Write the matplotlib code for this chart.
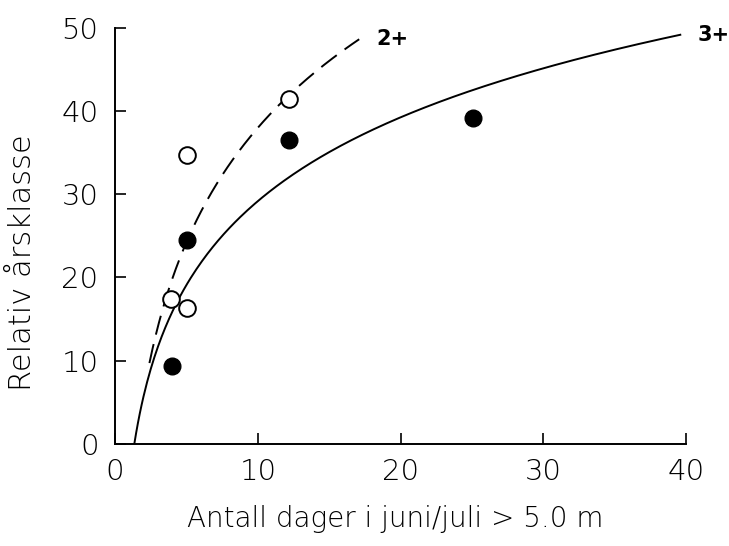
import numpy as np
import matplotlib
matplotlib.use("Agg")
import matplotlib.pyplot as plt

# Data
x_2plus = [3.9, 5.0, 5.0, 12.2]        # open circles (2+)
y_2plus = [17.4, 34.7, 16.3, 41.4]
x_3plus = [4.0, 5.0, 12.2, 25.1]       # filled circles (3+)
y_3plus = [9.4, 24.5, 36.5, 39.2]

# extents of fitted curves
range_2plus = (2.4, 17.1)
range_3plus = (1.34, 39.6)

xticks = [0, 10, 20, 30, 40]
yticks = [0, 10, 20, 30, 40, 50]

plt.rcParams['font.family'] = ['DejaVu Sans']

fig = plt.figure(figsize=(7.29, 5.46), dpi=100)
ax = fig.add_axes([0.158, 0.187, 0.783, 0.762])

# log fits y = a + b ln x
b2, a2 = np.polyfit(np.log(x_2plus), y_2plus, 1)
b3, a3 = np.polyfit(np.log(x_3plus), y_3plus, 1)
xs2 = np.linspace(range_2plus[0], range_2plus[1], 200)
xs3 = np.linspace(range_3plus[0], range_3plus[1], 300)
ax.plot(xs2, a2 + b2 * np.log(xs2), color='black', lw=1.4, ls=(0, (10, 5)))
ax.plot(xs3, a3 + b3 * np.log(xs3), color='black', lw=1.4)

ax.plot(x_2plus, y_2plus, 'o', ms=12, mfc='white', mec='black', mew=1.4, zorder=3)
ax.plot(x_3plus, y_3plus, 'o', ms=12, mfc='black', mec='black', zorder=3)

ax.text(range_2plus[1] + 1.2, a2 + b2 * np.log(range_2plus[1]), '2+', fontsize=15,
        fontweight='bold', ha='left', va='center')
ax.text(range_3plus[1] + 1.2, a3 + b3 * np.log(range_3plus[1]), '3+', fontsize=15,
        fontweight='bold', ha='left', va='center')

ax.set_xlim(0, 40)
ax.set_ylim(0, 50)
ax.set_xticks(xticks)
ax.set_yticks(yticks)
ax.tick_params(direction='in', length=8, width=1.2, labelsize=21)
ax.tick_params(axis='y', pad=12)
ax.tick_params(axis='x', pad=10)
for lab in ax.get_xticklabels() + ax.get_yticklabels():
    lab.set_fontweight('light')
for s in ['top', 'right']:
    ax.spines[s].set_visible(False)
for s in ['left', 'bottom']:
    ax.spines[s].set_linewidth(1.4)

ax.set_xlabel('Antall dager i juni/juli > 5.0 m', fontsize=20, fontweight='light', va='center')
ax.xaxis.set_label_coords(0.49, -0.18)
ax.set_ylabel('Relativ årsklasse', fontsize=22, fontweight='light', va='center')
ax.yaxis.set_label_coords(-0.163, 0.435)
ax.patch.set_visible(False)

fig.savefig('out.png', dpi=100)
